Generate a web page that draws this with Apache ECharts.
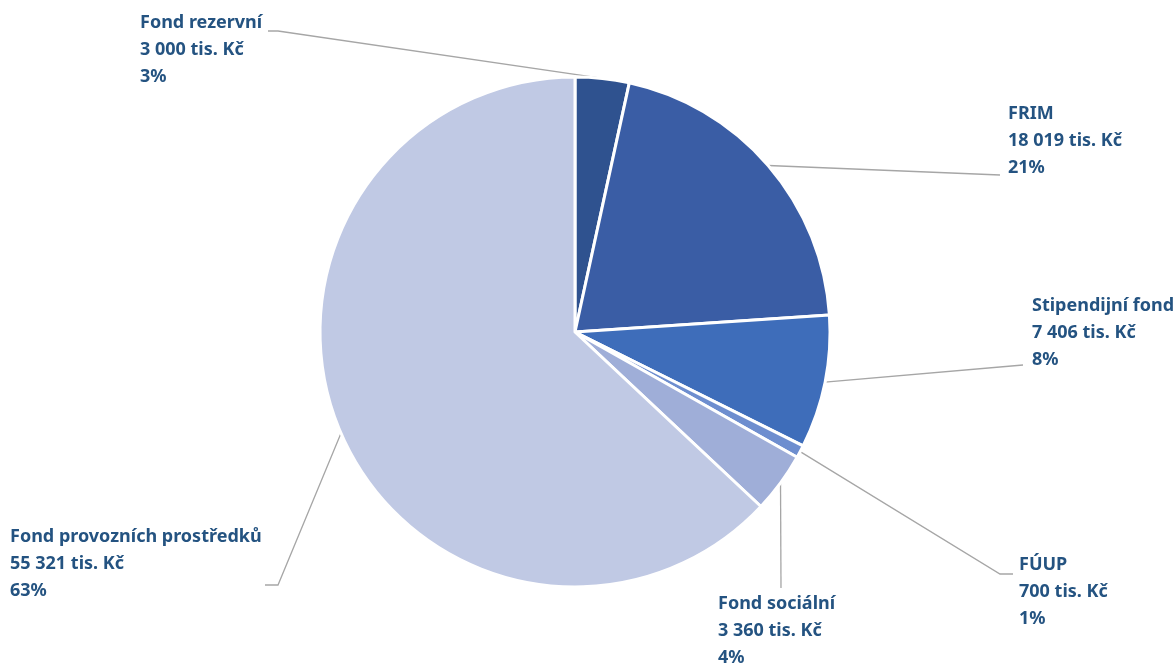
<!DOCTYPE html>
<html>
<head>
<meta charset="utf-8">
<script src="https://cdn.jsdelivr.net/npm/echarts@6/dist/echarts.min.js"></script>
<style>
  html, body { margin: 0; padding: 0; background: #fff; }
  #chart { width: 1175px; height: 664px; }
</style>
</head>
<body>
<div id="chart"></div>
<script>
// fondy (tis. Kč)
const names = ['Fond rezervní', 'FRIM', 'Stipendijní fond', 'FÚUP', 'Fond sociální', 'Fond provozních prostředků'];
const values = [3000, 18019, 7406, 700, 3360, 55321];
const colors = ['#2F528F', '#3A5DA5', '#3E6DBA', '#6E8ECF', '#9FAED8', '#C0C9E4'];

// pozice popisků (levý horní roh textu) a lomené čáry
const labelPos = [[140, 9], [1008, 100], [1032, 292], [1019, 551], [718, 590], [10, 523]];
const lineEnds = [
  [[278, 31], [268, 31]],
  [[1000, 175], [1000, 175]],
  [[1023, 365], [1023, 365]],
  [[1000, 574], [1013, 574]],
  [[781, 588], [781, 588]],
  [[278, 585], [265, 585]]
];

const total = values.reduce((a, b) => a + b, 0);
const fmt = v => String(v).replace(/\B(?=(\d{3})+(?!\d))/g, ' ');

const chart = echarts.init(document.getElementById('chart'));
chart.setOption({
  animation: false,
  color: colors,
  series: [{
    type: 'pie',
    center: [575, 332],
    radius: 255,
    startAngle: 90,
    clockwise: true,
    itemStyle: { borderColor: '#fff', borderWidth: 3 },
    label: {
      show: true,
      position: 'outside',
      fontFamily: 'Noto Sans',
      fontWeight: 'bold',
      fontSize: 18,
      lineHeight: 27,
      color: '#245381',
      formatter: p => p.name + '\n' + fmt(p.value) + ' tis. Kč\n' + Math.round(p.value / total * 100) + '%'
    },
    labelLine: {
      show: true,
      lineStyle: { color: '#A6A6A6', width: 1.3 }
    },
    labelLayout: function (params) {
      const i = params.dataIndex;
      const start = params.labelLinePoints ? params.labelLinePoints[0] : null;
      const out = {
        x: labelPos[i][0],
        y: labelPos[i][1],
        align: 'left',
        verticalAlign: 'top'
      };
      if (start) out.labelLinePoints = [start, lineEnds[i][0], lineEnds[i][1]];
      return out;
    },
    data: names.map((n, i) => ({ name: n, value: values[i] }))
  }]
});
</script>
</body>
</html>
